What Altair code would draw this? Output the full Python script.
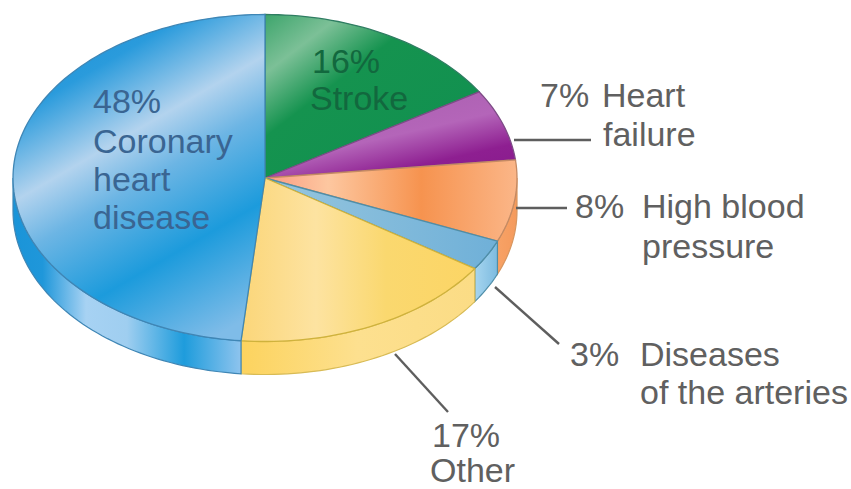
import math
import altair as alt
import pandas as pd

# Share of cardiovascular deaths by cause, clockwise from twelve o'clock
causes = ["Stroke", "Heart failure", "High blood pressure", "Diseases of the arteries", "Other", "Coronary heart disease"]
shares = [16, 7, 8, 3, 17, 48]

W, H = 851, 489
CX, CY, RX, RY, DEPTH = 265, 178, 252, 163.5, 33
TOTAL = sum(shares)


def grad(stops, x1=0, y1=0, x2=1, y2=0):
    return alt.Gradient(
        gradient="linear", x1=x1, y1=y1, x2=x2, y2=y2,
        stops=[alt.GradientStop(offset=o, color=c) for o, c in stops],
    )


top_fill = {
    "Stroke": (grad([(0, "#3da56c"), (0.24, "#7cc097"), (0.5, "#15934f"), (1, "#129150")], 0, 0, 0.75, 0.75), "#2f7d62"),
    "Heart failure": (grad([(0, "#a860ae"), (0.5, "#b465b9"), (0.82, "#8e1f91"), (1, "#8a1c8e")], 0.3, 0, 0.9, 0.9), "#7d4b86"),
    "High blood pressure": (grad([(0, "#fb9a80"), (0.25, "#fdc7a0"), (0.62, "#f6934f"), (1, "#fbb688")]), "#c58a63"),
    "Diseases of the arteries": (grad([(0, "#97c6de"), (1, "#6fb0d8")]), "#4f8ea8"),
    "Other": (grad([(0, "#fbd679"), (0.32, "#fde3a1"), (0.62, "#fad86f"), (1, "#fcd565")]), "#cfb23c"),
    "Coronary heart disease": (grad([(0, "#1b8fd6"), (0.17, "#2a9bdc"), (0.37, "#b3d3ee"), (0.5, "#6cb5e4"), (0.71, "#1c9bdc"), (0.96, "#7fbce8")], 0.2, 0, 0.69, 1.09), "#3f86b5"),
}
wall_fill = {
    "High blood pressure": (grad([(0, "#f7a266"), (1, "#f59a5c")]), "#d8965f"),
    "Diseases of the arteries": (grad([(0, "#a6d5ef"), (1, "#7dbbe0")]), "#4f8ea8"),
    "Other": (grad([(0, "#fcd35e"), (0.5, "#fde08f"), (1, "#fbdc85")]), "#d8bb55"),
    "Coronary heart disease": (grad([(0, "#1a94d8"), (0.13, "#1f97da"), (0.32, "#a7d2f3"), (0.5, "#9fcef0"), (0.75, "#1e9cdc"), (1, "#8ec4ee")]), "#3f86b5"),
}

# One line per row; leader lines run from the rim out to the text
label_lines = [
    ("48%", 93, 113, "#3a6592"), ("Coronary", 93, 153, "#3a6592"),
    ("heart", 93, 191, "#3a6592"), ("disease", 93, 229, "#3a6592"),
    ("16%", 312, 73, "#12683e"), ("Stroke", 310, 110, "#12683e"),
    ("7%", 540, 107, "#606060"), ("Heart", 602, 107, "#606060"), ("failure", 603, 146, "#606060"),
    ("8%", 575, 218, "#606060"), ("High blood", 642, 218, "#606060"), ("pressure", 642, 258, "#606060"),
    ("3%", 570, 366, "#606060"), ("Diseases", 640, 366, "#606060"), ("of the arteries", 640, 404, "#606060"),
    ("17%", 432, 447, "#606060"), ("Other", 430, 482, "#606060"),
]
leaders = [
    (514, 140, 591, 140),
    (516, 208, 567, 208),
    (495, 287, 559, 344),
    (395, 354, 448, 412),
]

x_scale = alt.Scale(domain=[0, W], range=[0, W], nice=False, zero=False)
y_scale = alt.Scale(domain=[0, H], range=[0, H], nice=False, zero=False)
X = alt.X("x:Q", scale=x_scale, axis=None)
Y = alt.Y("y:Q", scale=y_scale, axis=None)


def rim(deg, drop=0):
    t = math.radians(deg)
    return CX + RX * math.sin(t), CY - RY * math.cos(t) + drop


def sweep(a, b):
    n = max(2, int(abs(b - a) / 1.5))
    return [a + (b - a) * i / n for i in range(n + 1)]


def outline(points, fill, stroke, width):
    frame = pd.DataFrame(points, columns=["x", "y"]).assign(i=range(len(points)))
    return alt.Chart(frame).mark_line(fill=fill, stroke=stroke, strokeWidth=width, interpolate="linear").encode(
        x=X, y=Y, order="i:Q"
    )


walls, tops = [], []
running = 0
for cause, share in zip(causes, shares):
    start = running / TOTAL * 360
    running += share
    end = running / TOTAL * 360

    angles = sweep(start, end)
    pts = [(CX, CY)] + [rim(a) for a in angles] + [(CX, CY)]
    fill, stroke = top_fill[cause]
    tops.append(outline(pts, fill, stroke, 1.3))

    # The side of the disc only shows along the front half
    lo, hi = max(start, 90), min(end, 270)
    if lo < hi and cause in wall_fill:
        arc = sweep(lo, hi)
        side = [rim(a) for a in arc] + [rim(a, DEPTH) for a in reversed(arc)]
        side.append(side[0])
        fill, stroke = wall_fill[cause]
        walls.append(outline(side, fill, stroke, 1.2))

leader_frame = pd.DataFrame(leaders, columns=["x", "y", "x2", "y2"])
leader_layer = alt.Chart(leader_frame).mark_rule(color="#5e5e5e", strokeWidth=2.4).encode(
    x=X, y=Y, x2="x2:Q", y2="y2:Q"
)

text_frame = pd.DataFrame(label_lines, columns=["text", "x", "y", "ink"])
text_layer = alt.Chart(text_frame).mark_text(
    font="Liberation Sans", fontSize=34, align="left", baseline="alphabetic"
).encode(x=X, y=Y, text="text:N", color=alt.Color("ink:N", scale=None))

chart = alt.layer(*walls, *tops, leader_layer, text_layer).properties(
    width=W, height=H, padding=0, background="#ffffff",
    autosize=alt.AutoSizeParams(type="none"),
).configure_view(stroke=None)

chart.save("out.html", embed_options={"renderer": "svg", "actions": False})
